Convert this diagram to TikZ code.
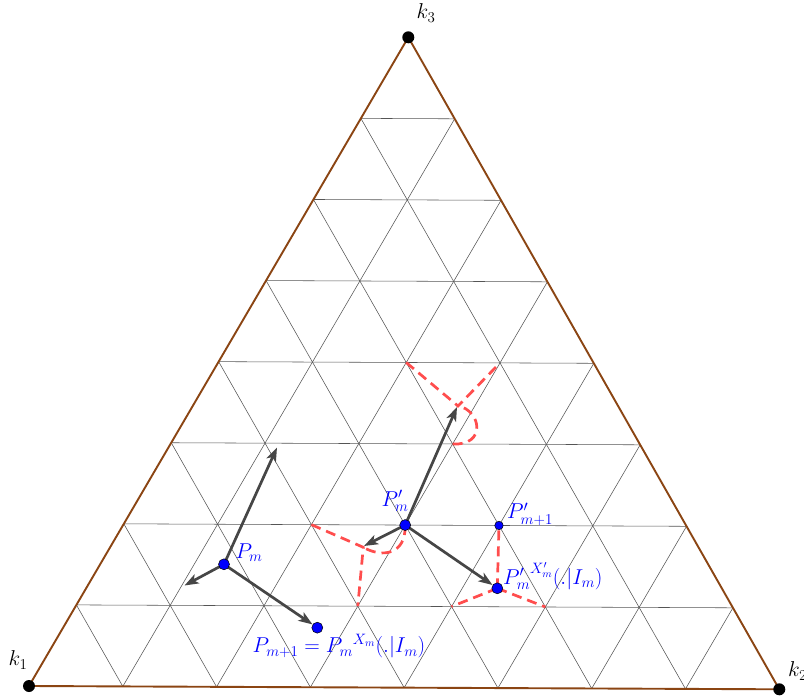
\RequirePackage{fix-cm}
\documentclass[tikz,border=0pt]{standalone}
\usetikzlibrary{arrows.meta,calc}
\definecolor{edgebrown}{RGB}{139,69,19}
\definecolor{gridgray}{RGB}{85,85,85}
\definecolor{arrowgray}{RGB}{70,70,70}
\definecolor{dashred}{RGB}{255,77,77}
\definecolor{ptblue}{RGB}{0,0,255}
\pgfdeclarelayer{bg}
\pgfsetlayers{bg,main}
\begin{document}
\begin{tikzpicture}[x=1pt,y=-1pt,
  vertex/.style={circle,fill=black,inner sep=0pt,minimum size=12pt},
  bdot/.style={circle,fill=ptblue,draw=black,line width=0.5pt,inner sep=0pt,minimum size=11pt},
  sdot/.style={bdot,minimum size=8.5pt},
  gridline/.style={draw=gridgray,line width=0.55pt},
  edgeline/.style={draw=edgebrown,line width=1.9pt},
  vec/.style={draw=arrowgray,line width=2.7pt,-{Stealth[length=14pt,width=10pt,inset=3.5pt]}},
  rdash/.style={draw=dashred,line width=2.7pt,dash pattern=on 10pt off 6pt},
  lab/.style={text=ptblue,font=\fontsize{21.5}{25}\selectfont,inner sep=0pt},
  klab/.style={text=black,font=\fontsize{21.5}{25}\selectfont,inner sep=0pt}]
\useasboundingbox (0,0) rectangle (804,698);

% triangle corners
\coordinate (k1) at (29,686);
\coordinate (k2) at (779.3,689.3);
\coordinate (k3) at (408.3,37.3);

% grid nodes
\foreach \i in {0,...,8}{
  \foreach \j in {0,...,8}{
    \coordinate (g\i\j) at ($(k1)+{\i/8}*(k2)-{\i/8}*(k1)+{\j/8}*(k3)-{\j/8}*(k1)$);
  }
}

% points
\node[vertex] (v1) at (k1) {};
\node[vertex] (v2) at (k2) {};
\node[vertex] (v3) at (k3) {};
\node[bdot] (Pm) at (224,564.3) {};
\node[bdot] (Pm1) at (317.3,627.7) {};
\node[bdot] (Pp) at (g32) {};
\node[sdot] (Pp1) at (g42) {};
\node[bdot] (PX) at (497.3,588.3) {};

% arrow tips and junctions
\coordinate (a1) at (277,447.5);
\coordinate (a2) at (184.5,585.5);
\coordinate (b1) at (457,407);
\coordinate (b2) at (364,546);
\coordinate (J1) at (458,406);
\coordinate (J2) at (363.3,547.3);

\begin{pgfonlayer}{bg}
  \fill[white] (0,0) rectangle (804,698);
  % grid
  \foreach \n in {1,...,7}{
    \pgfmathtruncatemacro\m{8-\n}
    \draw[gridline] (g0\n) -- (g\m\n);
    \draw[gridline] (g\n0) -- (g\n\m);
    \draw[gridline] (g\n0) -- (g0\n);
  }
  % edges
  \draw[edgeline] (k1) -- (k2) -- (k3) -- cycle;
  % red dashed
  \draw[rdash] (g24) -- (J1) -- (g34);
  \draw[rdash] (g33) .. controls (487,446) and (481,410) .. (J1);
  \draw[rdash] (g22) -- (J2) -- (g31);
  \draw[rdash] (Pp.center) .. controls (406,555) and (382,558) .. (J2);
  \draw[rdash] (PX.center) -- (Pp1.center);
  \draw[rdash] (PX.center) -- (g41);
  \draw[rdash] (PX.center) -- (g51);
  % arrows
  \draw[vec] (Pm.center) -- (a1);
  \draw[vec] (Pm.center) -- (a2);
  \draw[vec] (Pm.center) -- (Pm1);
  \draw[vec] (Pp.center) -- (b1);
  \draw[vec] (Pp.center) -- (b2);
  \draw[vec] (Pp.center) -- (PX);
\end{pgfonlayer}

% labels
\node[klab] (l1) at (18,660) {$k_1$};
\node[klab,anchor=west] (l2) at (788,671) {$k_2$};
\node[klab] (l3) at (426,13) {$k_3$};
\node[lab] (lPm) at (249,553) {$P_m$};
\node[lab] (lPp) at (395,501) {$P'_m$};
\node[lab] (lPp1) at (530,514) {$P'_{m+1}$};
\node[lab,anchor=west] (lPX) at (503,576) {${P'_m}^{X'_m}(.|I_m)$};
\node[lab] (lPm1) at (339,646) {$P_{m+1}={P_m}^{X_m}(.|I_m)$};
\end{tikzpicture}
\end{document}
